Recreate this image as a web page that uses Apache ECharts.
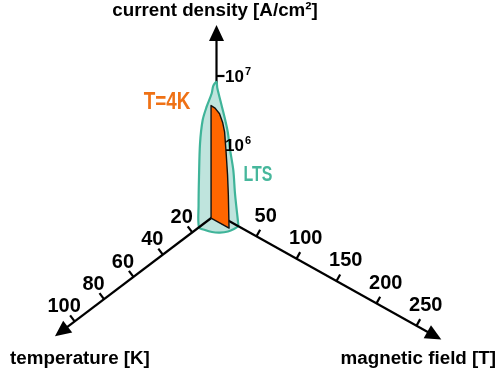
<!DOCTYPE html>
<html><head><meta charset="utf-8">
<script src="https://cdn.jsdelivr.net/npm/echarts@6/dist/echarts.min.js"></script>
<style>html,body{margin:0;padding:0;background:#fff}#c{width:502px;height:371px}</style>
</head><body><div id="c"></div>
<script>
// ---------------- data ----------------
const tempTicks = [20, 40, 60, 80, 100];            // K
const fieldTicks = [50, 100, 150, 200, 250];        // T
const currentTicks = [1e6, 1e7];                    // A/cm²
const currentExp = ['6', '7'];
const axisTitles = ['temperature [K]', 'magnetic field [T]', 'current density [A/cm²]'];

// LTS critical surface: trace in the T–J plane (B = 0), from the top down
const ltsTJ_T = [3.5, 5.7, 6.8, 10.2, 12.9, 14.7, 15.4, 15.7, 15.4];
const ltsTJ_J = [8.2e6, 7.8e6, 6.3e6, 4.6e6, 3.26e6, 1.6e6, 5.4e5, 2.1e5, 1e5];
// trace in the T–B plane (bottom, J = 1e5)
const ltsTB_T = [15.4, 15.1, 14.1, 12.1, 9.2, 6.2, 3.5];
const ltsTB_B = [0, 6.9, 13.9, 20.1, 24.9, 26.8, 27];
// trace in the B–J plane (T = axis origin), from the bottom up
const ltsBJ_B = [27, 26.9, 25.25, 23.1, 21, 16.6, 14.1, 10, 5, 1, 0];
const ltsBJ_J = [1e5, 1.14e5, 1.67e5, 2.8e5, 5.9e5, 1.16e6, 1.9e6, 2.96e6, 4.67e6, 6.8e6, 8.2e6];

// T = 4 K slice (B, J)
const sliceLabel = 'T=4K';
const sliceB = [0, 0, 5, 10.6, 14.6, 16.9, 18.75, 20.6, 21.6, 22.5];
const sliceJ = [1e5, 4.28e6, 4.23e6, 3.82e6, 2.99e6, 2.29e6, 1.21e6, 5.8e5, 3.0e5, 1e5];
const regionLabel = 'LTS';

// ---------------- projection (oblique 3D axes) ----------------
const W = 502, H = 371;
const PR = {ox: 216.5, oy: 214, T0: 3.5, tx: -1.47, ty: 1.1125, bx: 0.8, by: 0.4467, L0: 5, jy: 69};
const slicePlaneT = 7.2;              // plane where the slice is drawn
const tempEnd = 113.4, fieldEnd = 281, currentEnd = Math.pow(10, 7.74);
function proj(T, B, J) {
  const t = T - PR.T0, l = Math.log10(J) - PR.L0;
  return [PR.ox + t * PR.tx + B * PR.bx, PR.oy + t * PR.ty + B * PR.by - l * PR.jy];
}
const J0 = Math.pow(10, PR.L0);

const FONT = 'Liberation Sans';
const LINE = '#000';
const LW = 2.2;

function axisWithArrow(api, from, to, len, hw) {
  const a = api.coord(from), b = api.coord(to);
  const dx = b[0] - a[0], dy = b[1] - a[1], d = Math.hypot(dx, dy), ux = dx / d, uy = dy / d;
  const bx = b[0] - ux * len, by = b[1] - uy * len;
  return [
    {type: 'line', shape: {x1: a[0], y1: a[1], x2: bx + ux * 2, y2: by + uy * 2}, style: {stroke: LINE, lineWidth: LW}},
    {type: 'polygon', shape: {points: [[b[0], b[1]], [bx - uy * hw, by + ux * hw], [bx + uy * hw, by - ux * hw]]}, style: {fill: LINE}}
  ];
}

function unitDir(p0, p1) {
  const dx = p1[0] - p0[0], dy = p1[1] - p0[1], d = Math.hypot(dx, dy);
  return [dx / d, dy / d];
}

function txt(x, y, text, opts) {
  return {type: 'text', x: x, y: y,
    style: Object.assign({text: text, fontSize: 18.8, fontFamily: FONT, fontWeight: 'bold', fill: '#000', align: 'center', verticalAlign: 'middle'}, opts || {})};
}

const chart = echarts.init(document.getElementById('c'), null, {renderer: 'canvas'});

const option = {
  animation: false,
  backgroundColor: '#fff',
  grid: {left: 0, right: 0, top: 0, bottom: 0},
  xAxis: {type: 'value', min: 0, max: W, show: false},
  yAxis: {type: 'value', min: 0, max: H, inverse: true, show: false},
  series: [
    // current density axis (behind the LTS region)
    {
      type: 'custom', z: 1, clip: false, data: [[0, 0]],
      renderItem: function (params, api) {
        const ch = axisWithArrow(api, proj(PR.T0, 0, J0), proj(PR.T0, 0, currentEnd), 16, 7.5);
        currentTicks.forEach(function (j) {
          const p = api.coord(proj(PR.T0, 0, j));
          ch.push({type: 'line', shape: {x1: p[0], y1: p[1], x2: p[0] + 8, y2: p[1]}, style: {stroke: LINE, lineWidth: LW}});
        });
        return {type: 'group', children: ch};
      }
    },
    // LTS region
    {
      type: 'custom', z: 2, clip: false, data: [[0, 0]],
      renderItem: function (params, api) {
        const pts = [];
        ltsTJ_T.forEach(function (T, i) { pts.push(api.coord(proj(T, 0, ltsTJ_J[i]))); });
        ltsTB_T.forEach(function (T, i) { if (i > 0) pts.push(api.coord(proj(T, ltsTB_B[i], J0))); });
        ltsBJ_B.forEach(function (B, i) { if (i > 0 && i < ltsBJ_B.length - 1) pts.push(api.coord(proj(PR.T0, B, ltsBJ_J[i]))); });
        return {type: 'polygon', shape: {points: pts, smooth: 0.3}, style: {fill: '#bfe4dd', stroke: '#3fb499', lineWidth: 2.2}};
      }
    },
    // temperature and magnetic field axes
    {
      type: 'custom', z: 3, clip: false, data: [[0, 0]],
      renderItem: function (params, api) {
        let ch = [];
        ch = ch.concat(axisWithArrow(api, proj(PR.T0, 0, J0), proj(tempEnd, 0, J0), 16, 7.5));
        ch = ch.concat(axisWithArrow(api, proj(PR.T0, 0, J0), proj(PR.T0, fieldEnd, J0), 16, 7.5));
        const dT = unitDir(api.coord(proj(PR.T0, 0, J0)), api.coord(proj(tempEnd, 0, J0)));
        const dB = unitDir(api.coord(proj(PR.T0, 0, J0)), api.coord(proj(PR.T0, fieldEnd, J0)));
        const nT = [-dT[1], dT[0]];
        const upT = nT[1] < 0 ? nT : [-nT[0], -nT[1]];
        const nB = [-dB[1], dB[0]];
        const upB = nB[1] < 0 ? nB : [-nB[0], -nB[1]];
        tempTicks.forEach(function (T) {
          const p = api.coord(proj(T, 0, J0));
          ch.push({type: 'line', shape: {x1: p[0], y1: p[1], x2: p[0] + upT[0] * 7.5, y2: p[1] + upT[1] * 7.5}, style: {stroke: LINE, lineWidth: LW}});
        });
        fieldTicks.forEach(function (B) {
          const p = api.coord(proj(PR.T0, B, J0));
          ch.push({type: 'line', shape: {x1: p[0], y1: p[1], x2: p[0] + upB[0] * 7.5, y2: p[1] + upB[1] * 7.5}, style: {stroke: LINE, lineWidth: LW}});
        });
        return {type: 'group', children: ch};
      }
    },
    // T = 4 K slice
    {
      type: 'custom', z: 4, clip: false, data: [[0, 0]],
      renderItem: function (params, api) {
        const pts = sliceB.map(function (B, i) { return api.coord(proj(slicePlaneT, B, sliceJ[i])); });
        return {type: 'polygon', shape: {points: pts}, style: {fill: '#ff6600', stroke: '#111', lineWidth: 1.4, lineJoin: 'round'}};
      }
    },
    // texts
    {
      type: 'custom', z: 5, clip: false, data: [[0, 0]],
      renderItem: function (params, api) {
        const ch = [];
        tempTicks.forEach(function (T) {
          const p = api.coord(proj(T, 0, J0));
          ch.push(txt(p[0] - 10.5, p[1] - 14.7, String(T), {fontSize: 20}));
        });
        fieldTicks.forEach(function (B) {
          const p = api.coord(proj(PR.T0, B, J0));
          ch.push(txt(p[0] + 9.2, p[1] - 20.3, String(B), {fontSize: 20}));
        });
        currentTicks.forEach(function (j, i) {
          const p = api.coord(proj(PR.T0, 0, j));
          ch.push(txt(p[0] + 8.5, p[1] + 1.5, '10', {fontSize: 17, align: 'left'}));
          ch.push(txt(p[0] + 28.5, p[1] - 4.5, currentExp[i], {fontSize: 11, align: 'left'}));
        });
        const tT = api.coord(proj(tempEnd, 0, J0));
        const tB = api.coord(proj(PR.T0, fieldEnd, J0));
        const tJ = api.coord(proj(PR.T0, 0, currentEnd));
        ch.push(txt(tT[0] + 25, tT[1] + 23, axisTitles[0]));
        ch.push(txt(tB[0] - 23, tB[1] + 19, axisTitles[1]));
        ch.push(txt(tJ[0] - 1.5, tJ[1] - 14, axisTitles[2]));
        const s = api.coord(proj(slicePlaneT, 0, sliceJ[1]));
        ch.push({type: 'text', x: s[0] - 44, y: s[1] - 2.5, scaleX: 0.82,
          style: {text: sliceLabel, fontSize: 23, fontWeight: 'bold', fontFamily: 'Liberation Sans', fill: '#ef7115', align: 'center', verticalAlign: 'middle'}});
        const r = api.coord(proj(PR.T0, 0, 1e6));
        ch.push({type: 'text', x: r[0] + 41.5, y: r[1] + 30.5, scaleX: 0.74,
          style: {text: regionLabel, fontSize: 21.5, fontWeight: 'bold', fontFamily: 'Liberation Sans', fill: '#47b79c', align: 'center', verticalAlign: 'middle'}});
        return {type: 'group', children: ch};
      }
    }
  ]
};
chart.setOption(option);
</script>
</body></html>
